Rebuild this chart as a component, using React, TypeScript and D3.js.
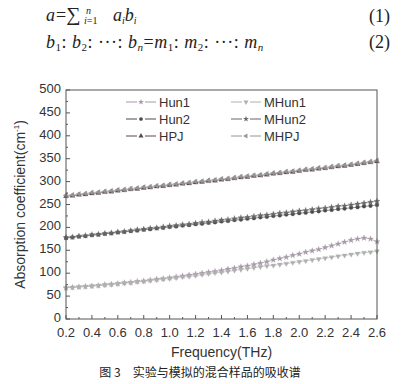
import * as d3 from "d3"

const freqs = d3.range(0, 49).map((i) => +(0.2 + i * 0.05).toFixed(2))

const hun1 = [68, 69, 70, 71, 72, 73, 75, 76, 77, 79, 80, 82, 83, 85, 87, 88, 90, 92, 94, 96, 98, 100, 102, 104, 106, 109, 111, 114, 116, 119, 122, 125, 129, 132, 135, 139, 142, 146, 149, 152, 156, 160, 164, 168, 172, 175, 177, 175, 169]
const mhun1 = [68, 69, 70, 71, 72, 73, 74, 75, 77, 78, 79, 81, 82, 84, 85, 87, 88, 90, 92, 93, 95, 97, 99, 101, 102, 104, 106, 108, 110, 112, 114, 116, 117, 119, 121, 123, 125, 127, 129, 131, 133, 135, 137, 139, 141, 143, 145, 146, 148]
const hun2 = [177, 178, 180, 181, 183, 184, 186, 187, 189, 190, 192, 193, 195, 196, 198, 199, 201, 202, 204, 205, 207, 208, 210, 211, 213, 214, 216, 217, 219, 220, 222, 223, 225, 226, 228, 229, 231, 232, 234, 235, 237, 238, 240, 241, 243, 244, 246, 247, 249]
const mhun2 = [178, 179, 181, 182, 184, 185, 187, 188, 190, 191, 193, 195, 196, 198, 199, 201, 203, 204, 206, 207, 209, 211, 212, 214, 216, 217, 219, 221, 222, 224, 226, 227, 229, 231, 232, 234, 236, 237, 239, 241, 242, 244, 246, 247, 249, 251, 253, 255, 257]
const hpj = [268, 269, 271, 272, 274, 275, 277, 278, 280, 281, 283, 284, 286, 287, 289, 290, 292, 293, 295, 296, 298, 299, 301, 302, 304, 305, 307, 309, 310, 312, 313, 315, 317, 318, 320, 321, 323, 325, 326, 328, 329, 331, 333, 334, 336, 338, 340, 342, 344]
const mhpj = [270, 271, 273, 274, 276, 277, 279, 280, 282, 283, 285, 286, 288, 289, 291, 292, 294, 295, 297, 298, 300, 301, 303, 304, 306, 307, 309, 311, 312, 314, 315, 317, 319, 320, 322, 323, 325, 327, 328, 330, 331, 333, 335, 336, 338, 340, 342, 344, 346]

const xTicks = [0.2, 0.4, 0.6, 0.8, 1.0, 1.2, 1.4, 1.6, 1.8, 2.0, 2.2, 2.4, 2.6]
const yTicks = [0, 50, 100, 150, 200, 250, 300, 350, 400, 450, 500]

type Series = { name: string; values: number[]; color: string; symbol: d3.SymbolType; rotate: number }

const series: Series[] = [
  { name: "Hun1", values: hun1, color: "#a898a8", symbol: d3.symbolStar, rotate: 0 },
  { name: "Hun2", values: hun2, color: "#4a4a4a", symbol: d3.symbolCircle, rotate: 0 },
  { name: "HPJ", values: hpj, color: "#5a4450", symbol: d3.symbolTriangle, rotate: 0 },
  { name: "MHun1", values: mhun1, color: "#b0b0b0", symbol: d3.symbolTriangle, rotate: 180 },
  { name: "MHun2", values: mhun2, color: "#666666", symbol: d3.symbolStar, rotate: 0 },
  { name: "MHPJ", values: mhpj, color: "#949494", symbol: d3.symbolTriangle, rotate: -90 },
]

const W = 418
const H = 384
const plot = { left: 66, right: 377, top: 90, bottom: 319 }

export default function App() {
  const x = d3.scaleLinear().domain([0.2, 2.6]).range([plot.left, plot.right])
  const y = d3.scaleLinear().domain([0, 500]).range([plot.bottom, plot.top])
  const line = d3
    .line<number>()
    .x((_, i) => x(freqs[i]))
    .y((d) => y(d))

  const sans = "'Liberation Sans', Arial, sans-serif"
  const serif = "'Liberation Serif', 'Times New Roman', serif"

  const xMinor = d3.range(0, 25).map((i) => 0.2 + i * 0.1)
  const yMinor = d3.range(0, 21).map((i) => i * 25)

  return (
    <>
      <style>{`body{margin:0}`}</style>
      <svg width={W} height={H} style={{ display: "block", background: "#fff" }}>
        {/* equations */}
        <g fontFamily={serif} fill="#222" fontSize={18}>
          <text x={46} y={21}>
            <tspan fontStyle="italic">a</tspan>
            <tspan dx={1}>=</tspan>
            <tspan fontSize={20}>∑</tspan>
          </text>
          <text x={86} y={14} fontSize={10} fontStyle="italic">n</text>
          <text x={84} y={24} fontSize={10}>
            <tspan fontStyle="italic">i</tspan>=1
          </text>
          <text x={113} y={21} fontStyle="italic">
            a<tspan fontSize={10} dy={3}>i</tspan>
            <tspan dy={-3}>b</tspan>
            <tspan fontSize={10} dy={3}>i</tspan>
          </text>
          <text x={369} y={22}>(1)</text>
          <text x={46} y={48} letterSpacing={0.5}>
            <tspan fontStyle="italic">b</tspan>
            <tspan fontSize={11} dy={3}>1</tspan>
            <tspan dy={-3}>: </tspan>
            <tspan fontStyle="italic">b</tspan>
            <tspan fontSize={11} dy={3}>2</tspan>
            <tspan dy={-3}>: ···: </tspan>
            <tspan fontStyle="italic">b</tspan>
            <tspan fontSize={11} dy={3} fontStyle="italic">n</tspan>
            <tspan dy={-3}>=</tspan>
            <tspan fontStyle="italic">m</tspan>
            <tspan fontSize={11} dy={3}>1</tspan>
            <tspan dy={-3}>: </tspan>
            <tspan fontStyle="italic">m</tspan>
            <tspan fontSize={11} dy={3}>2</tspan>
            <tspan dy={-3}>: ···: </tspan>
            <tspan fontStyle="italic">m</tspan>
            <tspan fontSize={11} dy={3} fontStyle="italic">n</tspan>
          </text>
          <text x={369} y={48}>(2)</text>
        </g>

        {/* series */}
        {series.map((s) => (
          <g key={s.name}>
            <path d={line(s.values) ?? ""} fill="none" stroke={s.color} strokeWidth={0.6} />
            {s.values.map((v, i) => (
              <path
                key={i}
                d={d3.symbol(s.symbol, 11)() ?? ""}
                transform={`translate(${x(freqs[i])},${y(v)}) rotate(${s.rotate})`}
                fill={s.color}
                stroke={s.color}
                strokeWidth={0.3}
              />
            ))}
          </g>
        ))}

        {/* frame */}
        <rect
          x={plot.left}
          y={plot.top}
          width={plot.right - plot.left}
          height={plot.bottom - plot.top}
          fill="none"
          stroke="#555"
          strokeWidth={1}
        />

        {/* x ticks */}
        {xMinor.map((t, i) => (
          <line key={"xm" + i} x1={x(t)} x2={x(t)} y1={plot.bottom} y2={plot.bottom - (i % 2 === 0 ? 4 : 2)} stroke="#555" />
        ))}
        {xTicks.map((t) => (
          <text key={"xt" + t} x={x(t)} y={plot.bottom + 18} textAnchor="middle" fontFamily={sans} fontSize={13} fill="#333">
            {t.toFixed(1)}
          </text>
        ))}

        {/* y ticks */}
        {yMinor.map((t, i) => (
          <line key={"ym" + i} x1={plot.left} x2={plot.left + (i % 2 === 0 ? 4 : 2)} y1={y(t)} y2={y(t)} stroke="#555" />
        ))}
        {yTicks.map((t) => (
          <text key={"yt" + t} x={plot.left - 5} y={y(t) + 3} textAnchor="end" fontFamily={sans} fontSize={13} fill="#333">
            {t}
          </text>
        ))}

        {/* axis titles */}
        <text
          transform={`translate(25,${(plot.top + plot.bottom) / 2}) rotate(-90)`}
          textAnchor="middle"
          fontFamily={sans}
          fontSize={14}
          fill="#333"
        >
          Absorption coefficient(cm<tspan fontSize={8} dy={-6}>-1</tspan>
          <tspan dy={6}>)</tspan>
        </text>
        <text x={(plot.left + plot.right) / 2} y={357} textAnchor="middle" fontFamily={sans} fontSize={14} fill="#333">
          Frequency(THz)
        </text>
        <text x={200} y={377} textAnchor="middle" fontFamily="'Noto Sans CJK SC', sans-serif" fontSize={12} fill="#222">
          图 3　实验与模拟的混合样品的吸收谱
        </text>

        {/* legend */}
        {series.map((s, i) => {
          const col = Math.floor(i / 3)
          const row = i % 3
          const lx = col === 0 ? 126 : 231
          const ly = 102 + row * 17
          return (
            <g key={"lg" + s.name}>
              <line x1={lx} x2={lx + 11} y1={ly} y2={ly} stroke={s.color} strokeWidth={1} />
              <line x1={lx + 19} x2={lx + 30} y1={ly} y2={ly} stroke={s.color} strokeWidth={1} />
              <path
                d={d3.symbol(s.symbol, 11)() ?? ""}
                transform={`translate(${lx + 15},${ly}) rotate(${s.rotate})`}
                fill={s.color}
              />
              <text x={lx + 33} y={ly + 5} fontFamily={sans} fontSize={13} fill="#333">
                {s.name}
              </text>
            </g>
          )
        })}
      </svg>
    </>
  )
}
